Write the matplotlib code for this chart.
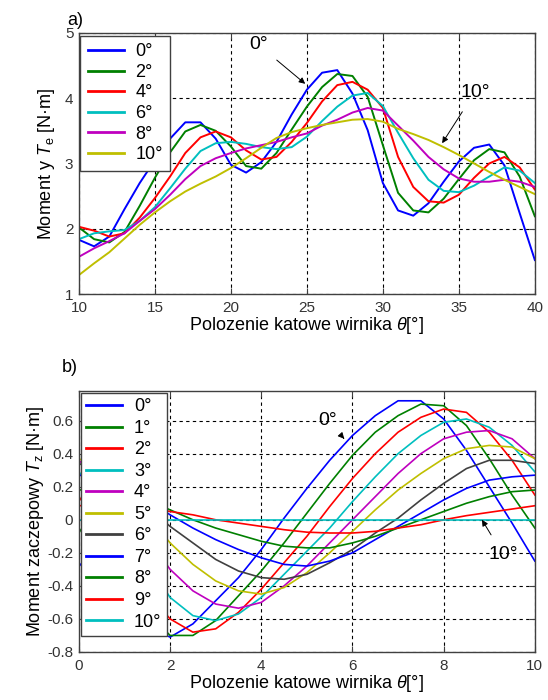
import matplotlib
matplotlib.use('Agg')
import matplotlib.pyplot as plt

# ---- data: panel a) electromagnetic torque vs rotor position ----
theta_a = list(range(10, 41))
skew_a = ['0°', '2°', '4°', '6°', '8°', '10°']
te_0 = [1.83, 1.73, 1.88, 2.30, 2.70, 3.05, 3.38, 3.63, 3.63, 3.38, 2.98, 2.86, 3.02, 3.33, 3.75, 4.13,
        4.39, 4.43, 4.07, 3.51, 2.70, 2.28, 2.20, 2.39, 2.72, 3.03, 3.24, 3.29, 2.97, 2.24, 1.52]
te_2 = [2.02, 1.84, 1.79, 1.95, 2.35, 2.78, 3.17, 3.49, 3.59, 3.50, 3.26, 2.96, 2.92, 3.16, 3.52, 3.87,
        4.17, 4.37, 4.34, 4.02, 3.28, 2.55, 2.28, 2.25, 2.46, 2.76, 3.05, 3.22, 3.17, 2.80, 2.19]
te_4 = [2.03, 1.97, 1.88, 1.93, 2.17, 2.47, 2.80, 3.16, 3.40, 3.49, 3.40, 3.20, 3.06, 3.10, 3.33, 3.62,
        3.95, 4.20, 4.25, 4.13, 3.85, 3.10, 2.64, 2.42, 2.40, 2.52, 2.78, 3.00, 3.10, 2.94, 2.60]
te_6 = [1.84, 1.93, 1.96, 1.98, 2.12, 2.33, 2.62, 2.92, 3.19, 3.31, 3.33, 3.30, 3.25, 3.22, 3.25, 3.41,
        3.65, 3.87, 4.04, 4.08, 3.88, 3.47, 3.08, 2.75, 2.58, 2.56, 2.66, 2.80, 2.94, 2.89, 2.70]
te_8 = [1.57, 1.70, 1.81, 1.93, 2.12, 2.30, 2.52, 2.76, 2.96, 3.08, 3.16, 3.23, 3.28, 3.33, 3.40, 3.46,
        3.58, 3.67, 3.78, 3.85, 3.81, 3.58, 3.35, 3.10, 2.91, 2.77, 2.72, 2.72, 2.75, 2.72, 2.64]
te_10 = [1.29, 1.47, 1.64, 1.85, 2.06, 2.25, 2.42, 2.57, 2.69, 2.80, 2.93, 3.08, 3.24, 3.39, 3.48, 3.54,
         3.59, 3.63, 3.67, 3.68, 3.64, 3.53, 3.45, 3.36, 3.25, 3.13, 3.00, 2.87, 2.75, 2.64, 2.53]
te_all = [te_0, te_2, te_4, te_6, te_8, te_10]

# ---- data: panel b) cogging torque vs rotor position ----
theta_b = [0, 0.5, 1, 1.5, 2, 2.5, 3, 3.5, 4, 4.5, 5, 5.5, 6, 6.5, 7, 7.5, 8, 8.5, 9, 9.5, 10]
skew_b = ['0°', '1°', '2°', '3°', '4°', '5°', '6°', '7°', '8°', '9°', '10°']
tz_0 = [-0.26, -0.42, -0.55, -0.65, -0.71, -0.63, -0.49, -0.35, -0.18, 0.01, 0.19, 0.36, 0.51, 0.63,
        0.72, 0.72, 0.61, 0.42, 0.20, -0.02, -0.25]
tz_1 = [-0.05, -0.25, -0.42, -0.56, -0.70, -0.70, -0.61, -0.46, -0.31, -0.14, 0.04, 0.22, 0.39, 0.53,
        0.63, 0.70, 0.69, 0.57, 0.37, 0.15, -0.05]
tz_2 = [0.14, -0.06, -0.26, -0.44, -0.60, -0.68, -0.66, -0.56, -0.42, -0.26, -0.10, 0.08, 0.25, 0.40,
        0.53, 0.62, 0.67, 0.65, 0.53, 0.36, 0.15]
tz_3 = [0.29, 0.12, -0.07, -0.26, -0.47, -0.58, -0.61, -0.57, -0.47, -0.33, -0.19, -0.05, 0.11, 0.26,
        0.40, 0.51, 0.59, 0.61, 0.56, 0.45, 0.29]
tz_4 = [0.36, 0.22, 0.06, -0.11, -0.30, -0.43, -0.51, -0.535, -0.50, -0.40, -0.28, -0.14, 0.00, 0.14,
        0.28, 0.40, 0.49, 0.53, 0.54, 0.49, 0.37]
tz_5 = [0.37, 0.29, 0.17, 0.03, -0.14, -0.27, -0.37, -0.43, -0.45, -0.41, -0.32, -0.20, -0.07, 0.06,
        0.18, 0.28, 0.37, 0.43, 0.45, 0.44, 0.37]
tz_6 = [0.34, 0.29, 0.19, 0.08, -0.04, -0.14, -0.24, -0.31, -0.35, -0.36, -0.33, -0.26, -0.18, -0.08,
        0.01, 0.12, 0.22, 0.31, 0.36, 0.36, 0.34]
tz_7 = [0.27, 0.25, 0.20, 0.12, 0.03, -0.05, -0.12, -0.18, -0.23, -0.27, -0.28, -0.25, -0.20, -0.12,
        -0.04, 0.04, 0.12, 0.19, 0.24, 0.26, 0.27]
tz_8 = [0.18, 0.19, 0.17, 0.12, 0.06, 0.0, -0.05, -0.09, -0.13, -0.16, -0.17, -0.17, -0.14, -0.10,
        -0.05, 0.0, 0.05, 0.10, 0.14, 0.17, 0.18]
tz_9 = [0.085, 0.09, 0.09, 0.08, 0.05, 0.03, 0.0, -0.02, -0.04, -0.06, -0.075, -0.08, -0.08, -0.07,
        -0.05, -0.03, 0.0, 0.025, 0.045, 0.065, 0.085]
tz_10 = [0.0] * 21
tz_all = [tz_0, tz_1, tz_2, tz_3, tz_4, tz_5, tz_6, tz_7, tz_8, tz_9, tz_10]

# old matlab colour order
colors = [(0, 0, 1), (0, 0.5, 0), (1, 0, 0), (0, 0.75, 0.75), (0.75, 0, 0.75),
          (0.75, 0.75, 0), (0.25, 0.25, 0.25)]

plt.rcParams['font.family'] = ['Liberation Sans', 'DejaVu Sans']
plt.rcParams['mathtext.fontset'] = 'custom'
plt.rcParams['mathtext.rm'] = 'Liberation Sans'
plt.rcParams['mathtext.it'] = 'Liberation Sans:italic'

fig = plt.figure(figsize=(5.48, 7.0), dpi=100)
ax1 = fig.add_axes([0.144, 0.58, 0.832, 0.373])
ax2 = fig.add_axes([0.144, 0.0686, 0.832, 0.373])

grid_style = dict(color='black', linestyle=(0, (3, 3)), linewidth=0.8)


def style_axes(ax):
    ax.grid(True, **grid_style)
    ax.set_axisbelow(True)
    ax.tick_params(direction='in', length=4, top=True, right=True, labelsize=11,
                   labelcolor='#333333', color='#404040')
    ax.tick_params(axis='x', pad=5)
    ax.tick_params(axis='y', pad=4)
    for sp in ax.spines.values():
        sp.set_color('#404040')
        sp.set_linewidth(1.0)


# panel a
for i in range(len(te_all)):
    ax1.plot(theta_a, te_all[i], color=colors[i % 7], lw=1.4, label=skew_a[i])
ax1.set_xlim(10, 40)
ax1.set_ylim(1, 5)
ax1.set_xticks([10, 15, 20, 25, 30, 35, 40])
ax1.set_yticks([1, 2, 3, 4, 5])
style_axes(ax1)
ax1.set_xlabel(r'Polozenie katowe wirnika $\theta$[°]', fontsize=13, labelpad=0)
ax1.set_ylabel(r'Moment y $T_\mathrm{e}$ [N·m]', fontsize=13, labelpad=6)
leg1 = ax1.legend(loc='upper left', bbox_to_anchor=(0.003, 0.988), borderaxespad=0,
                  fontsize=13, fancybox=False, framealpha=1, edgecolor='#404040',
                  handlelength=2.0, handletextpad=0.65, labelspacing=0.2, borderpad=0.4)
leg1.get_frame().set_linewidth(1.0)
for ln in leg1.get_lines():
    ln.set_linewidth(2.0)
ax1.annotate('0°', xy=(24.89, 4.22), xytext=(21.8, 4.82), fontsize=14,
             ha='center', va='center',
             arrowprops=dict(arrowstyle='-|>', color='black', lw=0.7,
                             shrinkA=6, shrinkB=0, mutation_scale=9))
ax1.annotate('10°', xy=(33.9, 3.31), xytext=(36.05, 4.09), fontsize=14,
             ha='center', va='center',
             arrowprops=dict(arrowstyle='-|>', color='black', lw=0.7,
                             shrinkA=7, shrinkB=0, mutation_scale=9))

# panel b
for i in range(len(tz_all)):
    ax2.plot(theta_b, tz_all[i], color=colors[i % 7], lw=1.2, label=skew_b[i])
ax2.set_xlim(0, 10)
ax2.set_ylim(-0.8, 0.78)
ax2.set_xticks([0, 2, 4, 6, 8, 10])
yt = [-0.8, -0.6, -0.4, -0.2, 0, 0.2, 0.4, 0.6]
ax2.set_yticks(yt)
ax2.set_yticklabels(['-0.8', '-0.6', '-0.4', '-0.2', '0', '0.2', '0.4', '0.6'])
style_axes(ax2)
ax2.set_xlabel(r'Polozenie katowe wirnika $\theta$[°]', fontsize=13, labelpad=0)
ax2.set_ylabel(r'Moment zaczepowy $T_\mathrm{z}$ [N·m]', fontsize=13, labelpad=1)
leg2 = ax2.legend(loc='upper left', bbox_to_anchor=(0.004, 0.992), borderaxespad=0,
                  fontsize=13, fancybox=False, framealpha=1, edgecolor='#404040',
                  handlelength=2.0, handletextpad=0.65, labelspacing=0.25, borderpad=0.3)
leg2.get_frame().set_linewidth(1.0)
for ln in leg2.get_lines():
    ln.set_linewidth(2.0)
ax2.annotate('0°', xy=(5.82, 0.49), xytext=(5.46, 0.60), fontsize=14,
             ha='center', va='center',
             arrowprops=dict(arrowstyle='-|>', color='black', lw=0.7,
                             shrinkA=6, shrinkB=0, mutation_scale=9))
ax2.annotate('10°', xy=(8.84, 0.0), xytext=(9.30, -0.21), fontsize=14,
             ha='center', va='center',
             arrowprops=dict(arrowstyle='-|>', color='black', lw=0.7,
                             shrinkA=7, shrinkB=0, mutation_scale=9))

fig.text(0.122, 0.971, 'a)', fontsize=13, ha='left', va='center')
fig.text(0.113, 0.475, 'b)', fontsize=13, ha='left', va='center')

fig.savefig('out.png', dpi=100)
